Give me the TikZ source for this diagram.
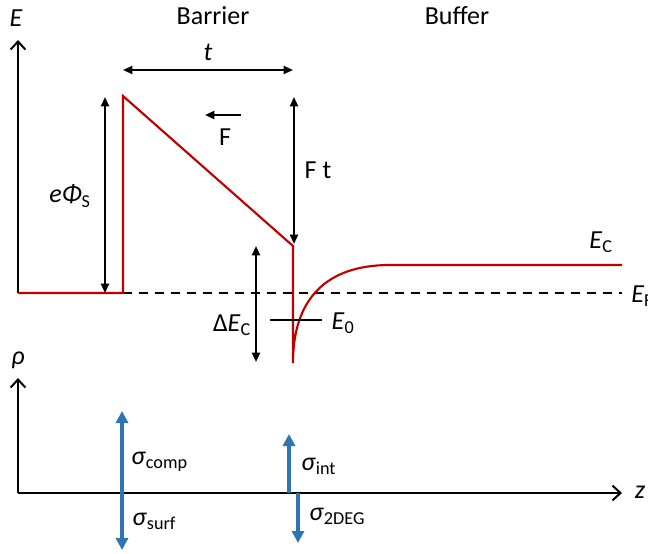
\documentclass[tikz,border=0pt]{standalone}
\usepackage{fontspec}
\setmainfont{Carlito}
\usetikzlibrary{arrows.meta}
\definecolor{bandred}{RGB}{192,0,0}
\definecolor{chargeblue}{RGB}{46,117,182}
\begin{document}
\begin{tikzpicture}[x=0.75pt,y=-0.75pt,
  lbl/.style={inner sep=0pt,font=\fontsize{19.5}{23}\selectfont},
  axis/.style={line width=1.5pt,-{Straight Barb[length=6pt,width=11pt]}},
  dim/.style={line width=1.5pt,{Triangle[length=7pt,width=6pt]}-{Triangle[length=7pt,width=6pt]}},
  onearrow/.style={line width=1.5pt,-{Triangle[length=7pt,width=6pt]}},
  band/.style={line width=1.6pt,bandred},
  charge/.style={line width=3pt,chargeblue,-{Triangle[length=9pt,width=9pt]}},
  charge2/.style={line width=3pt,chargeblue,{Triangle[length=9pt,width=9pt]}-{Triangle[length=9pt,width=9pt]}}]
\useasboundingbox (0,0) rectangle (648,553);
% coordinates
\coordinate (O1) at (18,293);
\coordinate (Etop) at (18,40);
\coordinate (B0) at (123,293);
\coordinate (B1) at (123,96);
\coordinate (B2) at (293,246);
\coordinate (B3) at (293,363);
\coordinate (C1) at (390,265);
\coordinate (C2) at (622,265);
\coordinate (FL) at (622,293);
\coordinate (tA) at (123,70);
\coordinate (tB) at (293,70);
\coordinate (phiA) at (105,97);
\coordinate (phiB) at (105,293);
\coordinate (FtA) at (294,97);
\coordinate (FtB) at (294,244);
\coordinate (dA) at (256,246);
\coordinate (dB) at (256,362);
\coordinate (e0A) at (270,320);
\coordinate (e0B) at (322,320);
\coordinate (FaA) at (241,115);
\coordinate (FaB) at (205,115);
\coordinate (O2) at (18,493);
\coordinate (rtop) at (18,378);
\coordinate (zend) at (622,493);
\coordinate (scA) at (122,411);
\coordinate (scB) at (122,550);
\coordinate (siA) at (289,493);
\coordinate (siB) at (289,434);
\coordinate (sdA) at (298,493);
\coordinate (sdB) at (298,543);
% E axis
\draw[axis] (O1) -- (Etop);
% Fermi level
\draw[line width=1.5pt,dash pattern=on 7pt off 5pt] (B0) -- (FL);
% band
\draw[band] (O1) -- (B0) -- (B1) -- (B2) -- (B3)
  .. controls (293,300) and (325,265) .. (C1) -- (C2);
% dimension arrows
\draw[dim] (tA) -- (tB);
\draw[dim] (phiA) -- (phiB);
\draw[dim] (FtA) -- (FtB);
\draw[dim] (dA) -- (dB);
\draw[onearrow] (FaA) -- (FaB);
\draw[line width=1.5pt] (e0A) -- (e0B);
% rho axis and z axis
\draw[axis] (O2) -- (rtop);
\draw[axis] (O2) -- (zend);
% charges
\draw[charge2] (scA) -- (scB);
\draw[charge] (siA) -- (siB);
\draw[charge] (sdA) -- (sdB);
% labels
\node[lbl] (lE) at (16,18) {\textit{E}};
\node[lbl] (lBar) at (213,16) {Barrier};
\node[lbl] (lBuf) at (457,16) {Buffer};
\node[lbl] (lt) at (208,52) {\textit{t}};
\node[lbl] (lF) at (225,137) {F};
\node[lbl] (lFt) at (318,170) {F t};
\node[lbl] (lphi) at (70,196) {\textit{eΦ}\textsubscript{S}};
\node[lbl] (lEC) at (601,242) {\textit{E}\textsubscript{C}};
\node[lbl,anchor=west] (lEF) at (631,296) {\textit{E}\textsubscript{F}};
\node[lbl] (ldEC) at (232,325) {Δ\textit{E}\textsubscript{C}};
\node[lbl] (lE0) at (343,323) {\textit{E}\textsubscript{0}};
\node[lbl] (lrho) at (18,360) {\textit{ρ}};
\node[lbl] (lz) at (640,492) {\textit{z}};
\node[lbl,anchor=west] (lsc) at (131,462) {\textit{σ}\textsubscript{comp}};
\node[lbl,anchor=west] (lss) at (132,521) {\textit{σ}\textsubscript{surf}};
\node[lbl,anchor=west] (lsi) at (301,466) {\textit{σ}\textsubscript{int}};
\node[lbl,anchor=west] (lsd) at (309,516) {\textit{σ}\textsubscript{2DEG}};
\end{tikzpicture}
\end{document}
